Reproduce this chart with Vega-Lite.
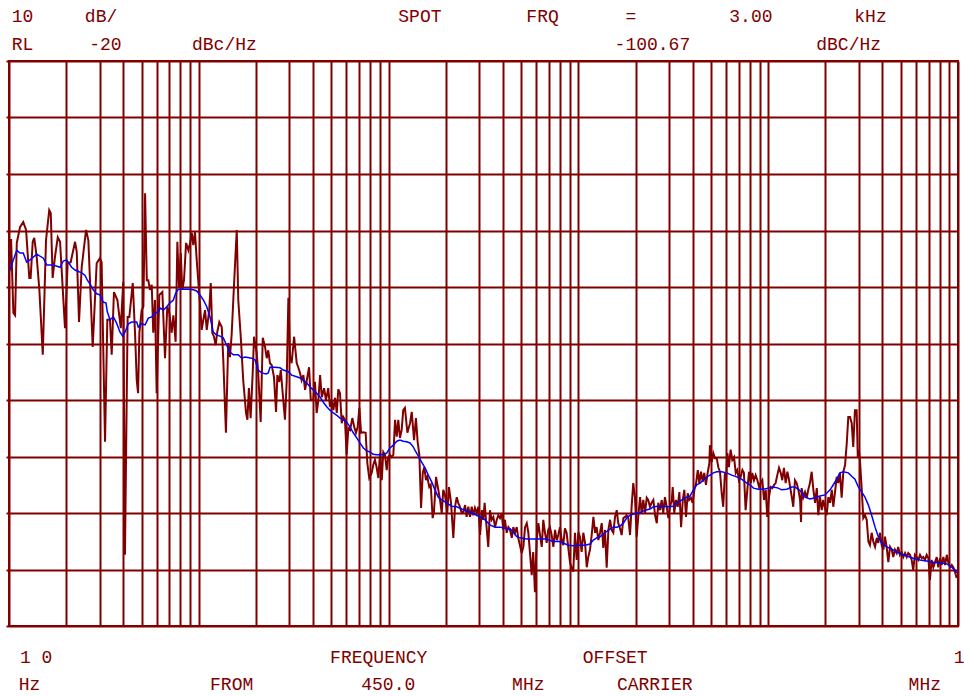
{
"$schema": "https://vega.github.io/schema/vega-lite/v6.json",
"width": 949, "height": 565,
"autosize": {"type": "none"},
"padding": {"left": 9, "top": 61, "right": 6, "bottom": 70},
"background": "white",
"config": {"view": {"stroke": "#800000", "strokeWidth": 2}},
"datasets": {
"trace": [
{"lf":1.002,"db":-57.3},{"lf":1.011,"db":-51.5},{"lf":1.023,"db":-64.6},{"lf":1.032,"db":-65.0},{"lf":1.041,"db":-52.2},{"lf":1.058,"db":-49.4},{"lf":1.075,"db":-48.5},{"lf":1.090,"db":-49.9},{"lf":1.107,"db":-58.4},{"lf":1.114,"db":-58.4},{"lf":1.125,"db":-52.0},{"lf":1.133,"db":-51.3},{"lf":1.146,"db":-54.7},{"lf":1.160,"db":-60.5},{"lf":1.178,"db":-72.0},{"lf":1.195,"db":-51.7},{"lf":1.212,"db":-46.4},{"lf":1.220,"db":-46.9},{"lf":1.230,"db":-58.4},{"lf":1.242,"db":-54.7},{"lf":1.257,"db":-51.2},{"lf":1.269,"db":-52.0},{"lf":1.295,"db":-67.3},{"lf":1.309,"db":-55.8},{"lf":1.325,"db":-55.6},{"lf":1.348,"db":-52.0},{"lf":1.357,"db":-53.8},{"lf":1.369,"db":-66.2},{"lf":1.383,"db":-56.5},{"lf":1.406,"db":-49.9},{"lf":1.418,"db":-51.7},{"lf":1.441,"db":-70.6},{"lf":1.462,"db":-55.8},{"lf":1.479,"db":-54.9},{"lf":1.488,"db":-55.6},{"lf":1.506,"db":-87.4},{"lf":1.518,"db":-65.8},{"lf":1.532,"db":-65.8},{"lf":1.541,"db":-72.0},{"lf":1.553,"db":-60.9},{"lf":1.571,"db":-62.3},{"lf":1.589,"db":-67.3},{"lf":1.602,"db":-59.1},{"lf":1.611,"db":-107.4},{"lf":1.625,"db":-65.3},{"lf":1.634,"db":-65.3},{"lf":1.652,"db":-59.3},{"lf":1.664,"db":-68.1},{"lf":1.673,"db":-76.5},{"lf":1.680,"db":-78.8},{"lf":1.687,"db":-68.1},{"lf":1.699,"db":-64.1},{"lf":1.708,"db":-63.5},{"lf":1.717,"db":-43.4},{"lf":1.726,"db":-58.8},{"lf":1.734,"db":-58.8},{"lf":1.743,"db":-60.5},{"lf":1.752,"db":-59.6},{"lf":1.760,"db":-68.1},{"lf":1.769,"db":-62.3},{"lf":1.778,"db":-78.8},{"lf":1.792,"db":-61.4},{"lf":1.808,"db":-60.9},{"lf":1.822,"db":-72.6},{"lf":1.834,"db":-63.5},{"lf":1.845,"db":-64.6},{"lf":1.857,"db":-68.1},{"lf":1.866,"db":-65.0},{"lf":1.878,"db":-69.7},{"lf":1.887,"db":-52.0},{"lf":1.896,"db":-60.0},{"lf":1.905,"db":-54.0},{"lf":1.913,"db":-60.5},{"lf":1.922,"db":-58.8},{"lf":1.933,"db":-52.2},{"lf":1.945,"db":-53.5},{"lf":1.954,"db":-52.2},{"lf":1.963,"db":-50.4},{"lf":1.971,"db":-52.6},{"lf":1.980,"db":-50.3},{"lf":1.989,"db":-55.2},{"lf":1.997,"db":-58.8},{"lf":2.006,"db":-62.8},{"lf":2.015,"db":-67.6},{"lf":2.024,"db":-65.8},{"lf":2.033,"db":-64.1},{"lf":2.042,"db":-67.6},{"lf":2.055,"db":-64.1},{"lf":2.063,"db":-59.3},{"lf":2.071,"db":-68.1},{"lf":2.080,"db":-68.8},{"lf":2.089,"db":-70.3},{"lf":2.097,"db":-68.0},{"lf":2.108,"db":-66.2},{"lf":2.121,"db":-67.1},{"lf":2.129,"db":-72.9},{"lf":2.143,"db":-85.8},{"lf":2.155,"db":-69.9},{"lf":2.164,"db":-72.4},{"lf":2.173,"db":-68.5},{"lf":2.185,"db":-60.0},{"lf":2.200,"db":-49.9},{"lf":2.208,"db":-62.3},{"lf":2.221,"db":-68.8},{"lf":2.234,"db":-76.5},{"lf":2.249,"db":-82.3},{"lf":2.256,"db":-83.5},{"lf":2.264,"db":-77.9},{"lf":2.273,"db":-83.2},{"lf":2.284,"db":-75.2},{"lf":2.291,"db":-68.8},{"lf":2.305,"db":-71.7},{"lf":2.313,"db":-75.2},{"lf":2.326,"db":-83.9},{"lf":2.337,"db":-69.0},{"lf":2.349,"db":-70.6},{"lf":2.358,"db":-72.6},{"lf":2.366,"db":-71.2},{"lf":2.375,"db":-73.5},{"lf":2.384,"db":-73.8},{"lf":2.396,"db":-75.9},{"lf":2.407,"db":-82.1},{"lf":2.414,"db":-75.6},{"lf":2.424,"db":-76.8},{"lf":2.432,"db":-74.7},{"lf":2.442,"db":-78.8},{"lf":2.454,"db":-83.5},{"lf":2.463,"db":-76.8},{"lf":2.472,"db":-61.9},{"lf":2.481,"db":-72.4},{"lf":2.489,"db":-73.5},{"lf":2.502,"db":-68.8},{"lf":2.516,"db":-73.5},{"lf":2.524,"db":-74.2},{"lf":2.533,"db":-75.2},{"lf":2.542,"db":-76.5},{"lf":2.551,"db":-75.6},{"lf":2.560,"db":-78.2},{"lf":2.569,"db":-76.5},{"lf":2.581,"db":-74.2},{"lf":2.590,"db":-80.0},{"lf":2.603,"db":-80.0},{"lf":2.612,"db":-76.8},{"lf":2.621,"db":-82.3},{"lf":2.630,"db":-80.0},{"lf":2.639,"db":-75.6},{"lf":2.648,"db":-79.5},{"lf":2.660,"db":-77.9},{"lf":2.670,"db":-80.0},{"lf":2.682,"db":-77.9},{"lf":2.691,"db":-81.2},{"lf":2.700,"db":-80.0},{"lf":2.709,"db":-81.8},{"lf":2.718,"db":-79.6},{"lf":2.727,"db":-82.3},{"lf":2.735,"db":-78.1},{"lf":2.744,"db":-78.8},{"lf":2.753,"db":-84.1},{"lf":2.761,"db":-83.0},{"lf":2.770,"db":-83.5},{"lf":2.779,"db":-89.7},{"lf":2.788,"db":-85.0},{"lf":2.797,"db":-85.3},{"lf":2.809,"db":-83.2},{"lf":2.819,"db":-84.8},{"lf":2.828,"db":-85.8},{"lf":2.837,"db":-84.8},{"lf":2.846,"db":-81.4},{"lf":2.855,"db":-85.8},{"lf":2.867,"db":-85.7},{"lf":2.879,"db":-85.8},{"lf":2.888,"db":-91.2},{"lf":2.898,"db":-93.8},{"lf":2.911,"db":-92.9},{"lf":2.919,"db":-91.5},{"lf":2.928,"db":-90.6},{"lf":2.937,"db":-91.9},{"lf":2.946,"db":-93.8},{"lf":2.955,"db":-89.4},{"lf":2.964,"db":-94.2},{"lf":2.972,"db":-89.2},{"lf":2.981,"db":-89.7},{"lf":2.990,"db":-92.4},{"lf":2.998,"db":-90.1},{"lf":3.007,"db":-89.7},{"lf":3.016,"db":-90.1},{"lf":3.025,"db":-89.7},{"lf":3.034,"db":-83.5},{"lf":3.043,"db":-86.5},{"lf":3.051,"db":-83.5},{"lf":3.060,"db":-86.7},{"lf":3.069,"db":-85.3},{"lf":3.077,"db":-81.8},{"lf":3.086,"db":-81.4},{"lf":3.099,"db":-85.8},{"lf":3.113,"db":-84.1},{"lf":3.122,"db":-82.1},{"lf":3.134,"db":-87.1},{"lf":3.144,"db":-83.2},{"lf":3.153,"db":-87.4},{"lf":3.162,"db":-89.7},{"lf":3.171,"db":-99.1},{"lf":3.180,"db":-92.9},{"lf":3.188,"db":-91.9},{"lf":3.197,"db":-94.2},{"lf":3.204,"db":-93.6},{"lf":3.214,"db":-95.4},{"lf":3.222,"db":-95.0},{"lf":3.232,"db":-100.9},{"lf":3.239,"db":-99.8},{"lf":3.250,"db":-93.6},{"lf":3.262,"db":-95.9},{"lf":3.271,"db":-97.7},{"lf":3.280,"db":-100.0},{"lf":3.288,"db":-95.9},{"lf":3.297,"db":-96.8},{"lf":3.309,"db":-100.0},{"lf":3.318,"db":-95.4},{"lf":3.329,"db":-98.2},{"lf":3.341,"db":-104.4},{"lf":3.350,"db":-98.9},{"lf":3.359,"db":-97.2},{"lf":3.367,"db":-98.2},{"lf":3.376,"db":-98.9},{"lf":3.385,"db":-100.0},{"lf":3.394,"db":-99.8},{"lf":3.403,"db":-98.6},{"lf":3.411,"db":-100.7},{"lf":3.420,"db":-98.9},{"lf":3.429,"db":-100.7},{"lf":3.438,"db":-98.9},{"lf":3.446,"db":-100.4},{"lf":3.455,"db":-99.1},{"lf":3.464,"db":-100.0},{"lf":3.473,"db":-98.9},{"lf":3.482,"db":-103.9},{"lf":3.491,"db":-99.5},{"lf":3.499,"db":-101.2},{"lf":3.506,"db":-98.2},{"lf":3.513,"db":-101.2},{"lf":3.525,"db":-106.0},{"lf":3.534,"db":-99.5},{"lf":3.543,"db":-101.2},{"lf":3.552,"db":-100.7},{"lf":3.561,"db":-102.5},{"lf":3.570,"db":-101.2},{"lf":3.578,"db":-100.4},{"lf":3.587,"db":-100.9},{"lf":3.596,"db":-100.0},{"lf":3.604,"db":-103.0},{"lf":3.613,"db":-101.2},{"lf":3.622,"db":-103.5},{"lf":3.631,"db":-102.5},{"lf":3.640,"db":-103.0},{"lf":3.649,"db":-104.4},{"lf":3.657,"db":-102.5},{"lf":3.666,"db":-103.5},{"lf":3.675,"db":-102.5},{"lf":3.683,"db":-104.4},{"lf":3.692,"db":-105.7},{"lf":3.701,"db":-107.1},{"lf":3.710,"db":-106.0},{"lf":3.719,"db":-102.5},{"lf":3.728,"db":-101.8},{"lf":3.736,"db":-103.4},{"lf":3.745,"db":-107.1},{"lf":3.754,"db":-111.0},{"lf":3.762,"db":-106.9},{"lf":3.771,"db":-114.0},{"lf":3.780,"db":-104.8},{"lf":3.789,"db":-101.8},{"lf":3.798,"db":-103.9},{"lf":3.807,"db":-106.0},{"lf":3.815,"db":-101.2},{"lf":3.824,"db":-103.5},{"lf":3.833,"db":-105.3},{"lf":3.841,"db":-103.0},{"lf":3.850,"db":-102.5},{"lf":3.859,"db":-103.9},{"lf":3.868,"db":-106.0},{"lf":3.877,"db":-103.0},{"lf":3.886,"db":-104.8},{"lf":3.894,"db":-103.9},{"lf":3.903,"db":-102.5},{"lf":3.912,"db":-104.8},{"lf":3.920,"db":-105.7},{"lf":3.929,"db":-102.7},{"lf":3.938,"db":-103.5},{"lf":3.947,"db":-106.2},{"lf":3.956,"db":-108.8},{"lf":3.965,"db":-109.7},{"lf":3.973,"db":-110.4},{"lf":3.982,"db":-103.5},{"lf":3.991,"db":-108.3},{"lf":4.000,"db":-103.4},{"lf":4.008,"db":-104.2},{"lf":4.017,"db":-106.9},{"lf":4.026,"db":-103.5},{"lf":4.035,"db":-105.3},{"lf":4.044,"db":-109.6},{"lf":4.052,"db":-107.8},{"lf":4.061,"db":-106.5},{"lf":4.070,"db":-103.9},{"lf":4.079,"db":-100.7},{"lf":4.088,"db":-103.5},{"lf":4.096,"db":-102.5},{"lf":4.105,"db":-104.8},{"lf":4.114,"db":-103.5},{"lf":4.123,"db":-101.8},{"lf":4.131,"db":-106.2},{"lf":4.140,"db":-103.0},{"lf":4.149,"db":-109.7},{"lf":4.158,"db":-103.0},{"lf":4.167,"db":-101.2},{"lf":4.175,"db":-103.0},{"lf":4.184,"db":-103.5},{"lf":4.193,"db":-100.7},{"lf":4.202,"db":-99.5},{"lf":4.210,"db":-101.8},{"lf":4.219,"db":-102.7},{"lf":4.228,"db":-103.9},{"lf":4.237,"db":-100.9},{"lf":4.246,"db":-100.7},{"lf":4.254,"db":-100.4},{"lf":4.263,"db":-100.9},{"lf":4.272,"db":-103.9},{"lf":4.281,"db":-98.6},{"lf":4.289,"db":-94.7},{"lf":4.298,"db":-97.2},{"lf":4.307,"db":-104.2},{"lf":4.316,"db":-100.4},{"lf":4.325,"db":-97.2},{"lf":4.333,"db":-100.0},{"lf":4.342,"db":-97.7},{"lf":4.351,"db":-100.0},{"lf":4.360,"db":-97.3},{"lf":4.368,"db":-97.7},{"lf":4.377,"db":-98.9},{"lf":4.386,"db":-98.2},{"lf":4.395,"db":-97.7},{"lf":4.404,"db":-100.4},{"lf":4.413,"db":-101.8},{"lf":4.421,"db":-98.2},{"lf":4.430,"db":-99.5},{"lf":4.439,"db":-97.7},{"lf":4.447,"db":-100.0},{"lf":4.456,"db":-97.2},{"lf":4.465,"db":-98.9},{"lf":4.474,"db":-100.9},{"lf":4.483,"db":-98.9},{"lf":4.492,"db":-97.7},{"lf":4.497,"db":-95.4},{"lf":4.505,"db":-100.0},{"lf":4.514,"db":-97.7},{"lf":4.523,"db":-98.9},{"lf":4.532,"db":-96.3},{"lf":4.541,"db":-102.5},{"lf":4.550,"db":-97.7},{"lf":4.558,"db":-95.9},{"lf":4.567,"db":-100.7},{"lf":4.576,"db":-96.5},{"lf":4.584,"db":-97.7},{"lf":4.593,"db":-97.3},{"lf":4.602,"db":-98.2},{"lf":4.611,"db":-95.9},{"lf":4.620,"db":-94.7},{"lf":4.629,"db":-92.4},{"lf":4.637,"db":-94.7},{"lf":4.646,"db":-92.7},{"lf":4.655,"db":-94.5},{"lf":4.663,"db":-92.9},{"lf":4.672,"db":-95.0},{"lf":4.681,"db":-92.9},{"lf":4.690,"db":-91.2},{"lf":4.693,"db":-88.0},{"lf":4.702,"db":-91.0},{"lf":4.711,"db":-89.4},{"lf":4.720,"db":-90.3},{"lf":4.729,"db":-90.3},{"lf":4.737,"db":-91.9},{"lf":4.746,"db":-92.7},{"lf":4.755,"db":-96.5},{"lf":4.763,"db":-98.9},{"lf":4.772,"db":-92.9},{"lf":4.778,"db":-94.2},{"lf":4.785,"db":-89.4},{"lf":4.793,"db":-91.9},{"lf":4.802,"db":-88.8},{"lf":4.811,"db":-90.6},{"lf":4.820,"db":-90.1},{"lf":4.829,"db":-92.9},{"lf":4.837,"db":-92.4},{"lf":4.846,"db":-94.2},{"lf":4.855,"db":-93.6},{"lf":4.864,"db":-92.4},{"lf":4.872,"db":-92.9},{"lf":4.881,"db":-99.5},{"lf":4.890,"db":-95.9},{"lf":4.899,"db":-92.7},{"lf":4.908,"db":-94.7},{"lf":4.916,"db":-92.9},{"lf":4.925,"db":-94.2},{"lf":4.934,"db":-93.3},{"lf":4.943,"db":-94.2},{"lf":4.952,"db":-95.4},{"lf":4.960,"db":-94.7},{"lf":4.969,"db":-94.2},{"lf":4.978,"db":-97.7},{"lf":4.987,"db":-95.9},{"lf":4.995,"db":-100.7},{"lf":5.004,"db":-97.2},{"lf":5.013,"db":-95.4},{"lf":5.022,"db":-95.6},{"lf":5.031,"db":-95.0},{"lf":5.039,"db":-94.7},{"lf":5.048,"db":-93.3},{"lf":5.057,"db":-92.0},{"lf":5.066,"db":-92.9},{"lf":5.074,"db":-94.2},{"lf":5.083,"db":-92.0},{"lf":5.092,"db":-94.7},{"lf":5.101,"db":-92.7},{"lf":5.110,"db":-94.2},{"lf":5.118,"db":-95.9},{"lf":5.127,"db":-97.7},{"lf":5.132,"db":-98.9},{"lf":5.141,"db":-94.2},{"lf":5.150,"db":-94.7},{"lf":5.159,"db":-95.9},{"lf":5.168,"db":-97.7},{"lf":5.173,"db":-101.6},{"lf":5.176,"db":-95.6},{"lf":5.185,"db":-97.2},{"lf":5.194,"db":-96.3},{"lf":5.203,"db":-97.3},{"lf":5.211,"db":-95.9},{"lf":5.220,"db":-94.7},{"lf":5.229,"db":-92.7},{"lf":5.238,"db":-95.9},{"lf":5.247,"db":-98.2},{"lf":5.256,"db":-95.6},{"lf":5.264,"db":-100.4},{"lf":5.273,"db":-97.2},{"lf":5.282,"db":-99.5},{"lf":5.290,"db":-97.7},{"lf":5.299,"db":-99.1},{"lf":5.308,"db":-100.4},{"lf":5.317,"db":-97.2},{"lf":5.326,"db":-98.2},{"lf":5.335,"db":-95.9},{"lf":5.343,"db":-98.9},{"lf":5.352,"db":-96.3},{"lf":5.361,"db":-93.6},{"lf":5.369,"db":-94.7},{"lf":5.378,"db":-92.9},{"lf":5.387,"db":-97.3},{"lf":5.396,"db":-92.7},{"lf":5.405,"db":-91.5},{"lf":5.414,"db":-87.6},{"lf":5.422,"db":-83.0},{"lf":5.431,"db":-83.0},{"lf":5.440,"db":-84.1},{"lf":5.448,"db":-88.3},{"lf":5.457,"db":-81.8},{"lf":5.466,"db":-81.8},{"lf":5.472,"db":-90.1},{"lf":5.478,"db":-88.8},{"lf":5.484,"db":-91.0},{"lf":5.493,"db":-95.9},{"lf":5.501,"db":-100.9},{"lf":5.510,"db":-100.4},{"lf":5.519,"db":-101.2},{"lf":5.528,"db":-105.1},{"lf":5.536,"db":-105.7},{"lf":5.545,"db":-103.5},{"lf":5.554,"db":-105.1},{"lf":5.563,"db":-106.0},{"lf":5.572,"db":-104.4},{"lf":5.580,"db":-105.3},{"lf":5.589,"db":-103.5},{"lf":5.598,"db":-105.7},{"lf":5.607,"db":-106.5},{"lf":5.615,"db":-104.2},{"lf":5.624,"db":-106.0},{"lf":5.633,"db":-108.7},{"lf":5.642,"db":-106.0},{"lf":5.651,"db":-106.5},{"lf":5.659,"db":-107.8},{"lf":5.668,"db":-106.5},{"lf":5.677,"db":-107.1},{"lf":5.685,"db":-106.0},{"lf":5.694,"db":-107.4},{"lf":5.703,"db":-106.9},{"lf":5.712,"db":-107.8},{"lf":5.721,"db":-107.1},{"lf":5.730,"db":-107.8},{"lf":5.738,"db":-107.1},{"lf":5.747,"db":-107.4},{"lf":5.756,"db":-108.3},{"lf":5.764,"db":-110.1},{"lf":5.773,"db":-107.4},{"lf":5.782,"db":-107.8},{"lf":5.791,"db":-108.3},{"lf":5.800,"db":-107.4},{"lf":5.809,"db":-108.0},{"lf":5.817,"db":-107.8},{"lf":5.826,"db":-108.3},{"lf":5.835,"db":-107.4},{"lf":5.844,"db":-108.0},{"lf":5.852,"db":-111.9},{"lf":5.861,"db":-108.3},{"lf":5.870,"db":-109.6},{"lf":5.879,"db":-108.7},{"lf":5.888,"db":-107.8},{"lf":5.896,"db":-109.6},{"lf":5.905,"db":-108.0},{"lf":5.914,"db":-109.2},{"lf":5.923,"db":-107.8},{"lf":5.932,"db":-109.2},{"lf":5.941,"db":-107.4},{"lf":5.949,"db":-108.8},{"lf":5.958,"db":-109.6},{"lf":5.967,"db":-109.2},{"lf":5.975,"db":-109.6},{"lf":5.984,"db":-110.4},{"lf":5.993,"db":-111.5}
],
"avg": [
{"lf":1.005,"db":-57.0},{"lf":1.023,"db":-55.2},{"lf":1.041,"db":-53.5},{"lf":1.058,"db":-54.0},{"lf":1.075,"db":-54.0},{"lf":1.093,"db":-55.6},{"lf":1.111,"db":-55.2},{"lf":1.146,"db":-54.2},{"lf":1.181,"db":-54.9},{"lf":1.199,"db":-56.1},{"lf":1.233,"db":-56.1},{"lf":1.269,"db":-56.5},{"lf":1.286,"db":-55.4},{"lf":1.304,"db":-55.2},{"lf":1.330,"db":-56.5},{"lf":1.348,"db":-57.0},{"lf":1.383,"db":-57.5},{"lf":1.400,"db":-57.9},{"lf":1.413,"db":-58.8},{"lf":1.427,"db":-59.5},{"lf":1.444,"db":-60.5},{"lf":1.462,"db":-61.2},{"lf":1.479,"db":-61.4},{"lf":1.497,"db":-62.7},{"lf":1.511,"db":-62.8},{"lf":1.518,"db":-64.4},{"lf":1.532,"db":-65.8},{"lf":1.550,"db":-65.3},{"lf":1.567,"db":-66.4},{"lf":1.585,"db":-68.0},{"lf":1.599,"db":-68.7},{"lf":1.611,"db":-68.0},{"lf":1.629,"db":-66.5},{"lf":1.646,"db":-66.2},{"lf":1.673,"db":-66.2},{"lf":1.681,"db":-67.1},{"lf":1.699,"db":-66.5},{"lf":1.717,"db":-66.7},{"lf":1.734,"db":-65.5},{"lf":1.752,"db":-65.3},{"lf":1.769,"db":-64.6},{"lf":1.787,"db":-64.4},{"lf":1.796,"db":-63.7},{"lf":1.813,"db":-64.1},{"lf":1.831,"db":-63.5},{"lf":1.848,"db":-62.8},{"lf":1.866,"db":-62.3},{"lf":1.878,"db":-61.1},{"lf":1.892,"db":-60.4},{"lf":1.918,"db":-60.4},{"lf":1.945,"db":-60.4},{"lf":1.971,"db":-60.5},{"lf":1.989,"db":-60.7},{"lf":2.006,"db":-61.4},{"lf":2.024,"db":-62.3},{"lf":2.042,"db":-63.5},{"lf":2.059,"db":-65.3},{"lf":2.068,"db":-66.7},{"lf":2.076,"db":-68.0},{"lf":2.094,"db":-68.5},{"lf":2.112,"db":-68.7},{"lf":2.129,"db":-69.0},{"lf":2.147,"db":-70.3},{"lf":2.164,"db":-71.5},{"lf":2.182,"db":-72.0},{"lf":2.208,"db":-72.0},{"lf":2.226,"db":-72.6},{"lf":2.243,"db":-72.4},{"lf":2.279,"db":-72.6},{"lf":2.296,"db":-72.9},{"lf":2.313,"db":-74.7},{"lf":2.331,"db":-75.2},{"lf":2.354,"db":-75.4},{"lf":2.366,"db":-75.2},{"lf":2.375,"db":-74.2},{"lf":2.401,"db":-74.2},{"lf":2.428,"db":-74.3},{"lf":2.445,"db":-74.7},{"lf":2.472,"db":-75.0},{"lf":2.489,"db":-75.6},{"lf":2.516,"db":-75.9},{"lf":2.533,"db":-76.1},{"lf":2.551,"db":-76.5},{"lf":2.569,"db":-77.0},{"lf":2.586,"db":-77.7},{"lf":2.603,"db":-78.2},{"lf":2.621,"db":-78.8},{"lf":2.639,"db":-79.5},{"lf":2.656,"db":-80.4},{"lf":2.674,"db":-81.2},{"lf":2.691,"db":-81.8},{"lf":2.709,"db":-82.3},{"lf":2.727,"db":-82.7},{"lf":2.744,"db":-83.2},{"lf":2.761,"db":-83.5},{"lf":2.779,"db":-83.9},{"lf":2.797,"db":-84.8},{"lf":2.814,"db":-85.8},{"lf":2.832,"db":-86.7},{"lf":2.849,"db":-87.6},{"lf":2.867,"db":-88.5},{"lf":2.885,"db":-89.0},{"lf":2.902,"db":-89.2},{"lf":2.919,"db":-89.6},{"lf":2.937,"db":-89.7},{"lf":2.955,"db":-89.7},{"lf":2.972,"db":-89.6},{"lf":2.990,"db":-89.4},{"lf":3.007,"db":-88.5},{"lf":3.025,"db":-88.0},{"lf":3.043,"db":-87.3},{"lf":3.060,"db":-87.1},{"lf":3.077,"db":-87.3},{"lf":3.095,"db":-87.4},{"lf":3.113,"db":-87.6},{"lf":3.130,"db":-88.3},{"lf":3.144,"db":-89.2},{"lf":3.156,"db":-89.9},{"lf":3.174,"db":-91.0},{"lf":3.192,"db":-92.0},{"lf":3.209,"db":-93.3},{"lf":3.227,"db":-94.5},{"lf":3.244,"db":-95.9},{"lf":3.262,"db":-97.2},{"lf":3.280,"db":-97.7},{"lf":3.306,"db":-98.2},{"lf":3.332,"db":-98.8},{"lf":3.359,"db":-98.9},{"lf":3.385,"db":-99.3},{"lf":3.411,"db":-99.6},{"lf":3.438,"db":-100.0},{"lf":3.464,"db":-100.4},{"lf":3.482,"db":-100.7},{"lf":3.508,"db":-101.2},{"lf":3.534,"db":-102.1},{"lf":3.561,"db":-102.5},{"lf":3.587,"db":-102.5},{"lf":3.613,"db":-102.7},{"lf":3.640,"db":-102.8},{"lf":3.657,"db":-103.4},{"lf":3.675,"db":-104.2},{"lf":3.692,"db":-104.4},{"lf":3.728,"db":-104.6},{"lf":3.762,"db":-104.6},{"lf":3.798,"db":-104.6},{"lf":3.833,"db":-104.6},{"lf":3.868,"db":-105.1},{"lf":3.894,"db":-105.0},{"lf":3.920,"db":-105.3},{"lf":3.947,"db":-105.7},{"lf":3.973,"db":-105.8},{"lf":4.008,"db":-105.7},{"lf":4.035,"db":-105.7},{"lf":4.061,"db":-105.5},{"lf":4.079,"db":-104.8},{"lf":4.096,"db":-104.4},{"lf":4.114,"db":-104.2},{"lf":4.140,"db":-103.5},{"lf":4.167,"db":-102.8},{"lf":4.184,"db":-102.5},{"lf":4.202,"db":-102.5},{"lf":4.219,"db":-102.3},{"lf":4.237,"db":-101.8},{"lf":4.254,"db":-100.9},{"lf":4.272,"db":-100.4},{"lf":4.289,"db":-100.2},{"lf":4.316,"db":-100.0},{"lf":4.333,"db":-99.8},{"lf":4.351,"db":-99.5},{"lf":4.377,"db":-99.3},{"lf":4.395,"db":-98.9},{"lf":4.421,"db":-98.8},{"lf":4.447,"db":-98.8},{"lf":4.474,"db":-98.9},{"lf":4.500,"db":-98.8},{"lf":4.518,"db":-98.2},{"lf":4.535,"db":-97.9},{"lf":4.553,"db":-97.5},{"lf":4.571,"db":-97.2},{"lf":4.588,"db":-97.0},{"lf":4.606,"db":-95.9},{"lf":4.623,"db":-95.0},{"lf":4.641,"db":-94.7},{"lf":4.658,"db":-94.2},{"lf":4.676,"db":-93.6},{"lf":4.693,"db":-93.3},{"lf":4.711,"db":-92.9},{"lf":4.729,"db":-92.7},{"lf":4.755,"db":-92.7},{"lf":4.781,"db":-92.9},{"lf":4.808,"db":-93.3},{"lf":4.834,"db":-93.6},{"lf":4.860,"db":-94.0},{"lf":4.887,"db":-94.7},{"lf":4.904,"db":-95.0},{"lf":4.922,"db":-95.6},{"lf":4.948,"db":-95.8},{"lf":4.974,"db":-95.8},{"lf":5.000,"db":-95.6},{"lf":5.027,"db":-95.4},{"lf":5.053,"db":-95.6},{"lf":5.071,"db":-95.9},{"lf":5.098,"db":-95.8},{"lf":5.124,"db":-95.4},{"lf":5.141,"db":-95.4},{"lf":5.159,"db":-95.8},{"lf":5.176,"db":-96.3},{"lf":5.194,"db":-97.2},{"lf":5.220,"db":-97.5},{"lf":5.247,"db":-97.3},{"lf":5.273,"db":-97.0},{"lf":5.299,"db":-96.8},{"lf":5.326,"db":-95.9},{"lf":5.343,"db":-95.0},{"lf":5.361,"db":-94.0},{"lf":5.378,"db":-92.9},{"lf":5.396,"db":-92.7},{"lf":5.422,"db":-92.9},{"lf":5.440,"db":-93.5},{"lf":5.457,"db":-94.0},{"lf":5.475,"db":-95.4},{"lf":5.493,"db":-96.3},{"lf":5.510,"db":-97.2},{"lf":5.528,"db":-98.6},{"lf":5.545,"db":-100.4},{"lf":5.563,"db":-102.5},{"lf":5.580,"db":-104.2},{"lf":5.598,"db":-105.3},{"lf":5.624,"db":-106.0},{"lf":5.651,"db":-106.4},{"lf":5.677,"db":-106.9},{"lf":5.703,"db":-107.3},{"lf":5.730,"db":-107.6},{"lf":5.764,"db":-108.0},{"lf":5.800,"db":-108.3},{"lf":5.835,"db":-108.5},{"lf":5.870,"db":-108.7},{"lf":5.905,"db":-108.8},{"lf":5.941,"db":-109.0},{"lf":5.967,"db":-109.6},{"lf":5.984,"db":-110.1},{"lf":5.993,"db":-110.6}
],
"labels": [
{"lf":1.071,"db":-12.3,"t":"10"},{"lf":1.485,"db":-12.3,"t":"dB/"},{"lf":3.165,"db":-12.3,"t":"SPOT"},{"lf":3.811,"db":-12.3,"t":"FRQ"},{"lf":4.277,"db":-12.3,"t":"="},{"lf":4.909,"db":-12.3,"t":"3.00"},{"lf":5.539,"db":-12.3,"t":"kHz"},
{"lf":1.071,"db":-17.2,"t":"RL"},{"lf":1.508,"db":-17.2,"t":"-20"},{"lf":2.135,"db":-17.2,"t":"dBc/Hz"},{"lf":4.390,"db":-17.2,"t":"-100.67"},{"lf":5.424,"db":-17.2,"t":"dBC/Hz"},
{"lf":1.143,"db":-125.7,"t":"1 0"},{"lf":2.948,"db":-125.7,"t":"FREQUENCY"},{"lf":4.194,"db":-125.7,"t":"OFFSET"},{"lf":6.006,"db":-125.7,"t":"1"},
{"lf":1.108,"db":-130.5,"t":"Hz"},{"lf":2.173,"db":-130.5,"t":"FROM"},{"lf":2.998,"db":-130.5,"t":"450.0"},{"lf":3.736,"db":-130.5,"t":"MHz"},{"lf":4.402,"db":-130.5,"t":"CARRIER"},{"lf":5.825,"db":-130.5,"t":"MHz"}
]
},
"encoding": {
"x": {"field": "lf", "type": "quantitative", "title": "log10 offset frequency (Hz)",
 "scale": {"domain": [1, 6], "nice": false, "zero": false},
 "axis": {"title": null, "labels": false, "ticks": false, "domain": false, "grid": true, "gridColor": "#800000", "gridWidth": 2, "gridOpacity": 1,
  "values": [1,1.30103,1.47712,1.60206,1.69897,1.77815,1.8451,1.90309,1.95424,2,2.30103,2.47712,2.60206,2.69897,2.77815,2.8451,2.90309,2.95424,3,3.30103,3.47712,3.60206,3.69897,3.77815,3.8451,3.90309,3.95424,4,4.30103,4.47712,4.60206,4.69897,4.77815,4.8451,4.90309,4.95424,5,5.30103,5.47712,5.60206,5.69897,5.77815,5.8451,5.90309,5.95424,6]}},
"y": {"field": "db", "type": "quantitative", "title": "dBc/Hz",
 "scale": {"domain": [-120, -20], "nice": false, "zero": false},
 "axis": {"title": null, "labels": false, "ticks": true, "tickSize": 3, "tickColor": "#800000", "tickWidth": 2, "domain": false, "grid": true, "gridColor": "#800000", "gridWidth": 2, "gridOpacity": 1,
  "values": [-120,-110,-100,-90,-80,-70,-60,-50,-40,-30,-20]}}
},
"layer": [
{"data": {"name": "trace"}, "mark": {"type": "line", "color": "#800000", "strokeWidth": 2, "interpolate": "linear"}},
{"data": {"name": "avg"}, "mark": {"type": "line", "color": "#0000ff", "strokeWidth": 1.5, "interpolate": "linear"}},
{"data": {"name": "labels"}, "mark": {"type": "text", "font": "Liberation Mono", "fontSize": 18, "color": "#800000", "align": "center", "baseline": "middle"},
 "encoding": {"text": {"field": "t", "type": "nominal"}}}
]
}
